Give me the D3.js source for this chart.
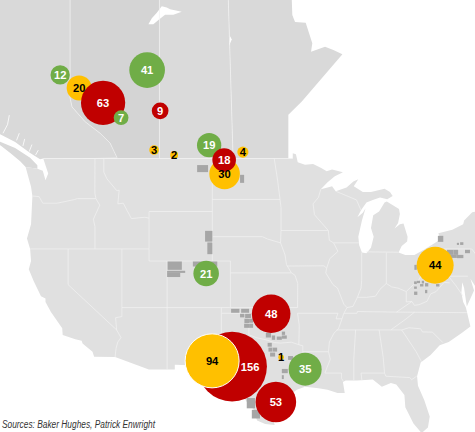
<!DOCTYPE html>
<html>
<head>
<meta charset="utf-8">
<script src="https://cdn.jsdelivr.net/npm/d3@7/dist/d3.min.js"></script>
<style>
    html, body { margin: 0; padding: 0; background: #fff; }
    svg { display: block; }
</style>
</head>
<body>
<div id="map"></div>
<script>
// Rig counts per play: value, where it sits, and its colour group
const rigValues = [12, 20, 63, 7, 41, 9, 3, 2, 19, 30, 18, 4, 21, 48, 156, 94, 1, 35, 53, 44];
const rigLons = [-120.88, -118.78, -116.13, -114.14, -111.26, -109.82, -110.49, -108.27, -104.40, -102.69, -102.74, -100.67, -104.73, -97.54, -101.86, -104.07, -96.44, -93.78, -97.02, -79.40];
const rigLats = [54.70, 53.86, 52.88, 51.87, 55.01, 52.34, 49.61, 49.25, 49.96, 47.87, 48.89, 49.46, 39.95, 36.45, 31.61, 32.15, 32.49, 31.37, 28.22, 40.65];
const rigGroups = ['g', 'y', 'r', 'g', 'g', 'r', 'y', 'y', 'g', 'y', 'r', 'y', 'g', 'r', 'r', 'y', 'y', 'g', 'r', 'y'];

// Outlines in [lon, lat]
const usOutline = [[-122.75, 49], [-95.15, 49], [-95.15, 49.38], [-94.8, 49.3], [-94.6, 48.72], [-93.8, 48.55], [-92.9, 48.6], [-92, 48.3], [-91.4, 48.07], [-90.8, 48.2], [-89.6, 48], [-90.5, 47.7], [-91.3, 47.25], [-92.05, 46.72], [-91.2, 46.87], [-90.8, 46.95], [-90.4, 46.57], [-89.2, 46.85], [-88.45, 47.3], [-87.9, 47.47], [-88.4, 46.95], [-87.4, 46.5], [-86.5, 46.5], [-85, 46.75], [-84.4, 46.5], [-84.1, 46.2], [-84.7, 45.95], [-85.5, 46.08], [-86.3, 45.9], [-87, 45.7], [-87.6, 45.1], [-88, 44.55], [-87.4, 44.9], [-87.1, 45.25], [-87.5, 44.3], [-87.9, 43], [-87.8, 42.3], [-87.5, 41.7], [-87, 41.65], [-86.5, 42.1], [-86.2, 43], [-86.5, 43.7], [-86.25, 44.7], [-85.6, 45], [-85, 45.7], [-84.75, 45.78], [-83.4, 45.2], [-83.3, 44.8], [-83.5, 44.1], [-83.9, 43.65], [-83.3, 44], [-82.9, 44.05], [-82.45, 43], [-82.5, 42.6], [-83.1, 42.25], [-83.45, 41.7], [-82.7, 41.5], [-81.7, 41.5], [-80.5, 42], [-79, 42.7], [-78.9, 43], [-79.05, 43.27], [-77.5, 43.55], [-76.3, 44], [-76.2, 44.3], [-75.3, 44.95], [-74.7, 45], [-71.5, 45], [-71, 41], [-74, 40.5], [-74, 39.7], [-75, 38.9], [-75.5, 39.5], [-75.1, 38.5], [-75.9, 37.1], [-76.2, 38.7], [-76.4, 39.2], [-76.5, 38.3], [-76.3, 37.5], [-76, 37], [-75.5, 35.3], [-76.5, 34.7], [-77.9, 33.9], [-78.9, 33.6], [-79.9, 32.7], [-81, 32], [-81.4, 30.7], [-81.3, 29.8], [-80.6, 28.4], [-80, 26.8], [-80.2, 25.7], [-80.9, 25.15], [-81.8, 26.1], [-82.7, 27.7], [-82.8, 28.9], [-83.7, 29.9], [-84.3, 30.05], [-85.3, 29.7], [-86.3, 30.4], [-88, 30.3], [-89.3, 30.3], [-89.6, 30.15], [-89.4, 29.1], [-90.2, 29.1], [-91.3, 29.4], [-92.3, 29.55], [-93.8, 29.7], [-94.7, 29.4], [-95.9, 28.6], [-97.2, 27.6], [-97.4, 26.8], [-97.15, 25.95], [-98.2, 26.05], [-99.1, 26.4], [-99.5, 27.5], [-100.3, 28.3], [-100.7, 29.1], [-101.4, 29.77], [-102.4, 29.77], [-103.15, 28.98], [-104.5, 29.65], [-105, 30.65], [-106.5, 31.75], [-108.2, 31.78], [-108.2, 31.33], [-111.07, 31.33], [-114.8, 32.5], [-117.12, 32.53], [-117.3, 33], [-118.4, 33.75], [-118.5, 34.02], [-119.2, 34.15], [-120.6, 34.55], [-120.65, 35.15], [-121.9, 36.6], [-122.5, 37.5], [-122.5, 37.8], [-123, 38], [-123.8, 39.3], [-124.35, 40.3], [-124.1, 41], [-124.2, 42], [-124.55, 42.85], [-124.1, 44], [-123.95, 46.2], [-124.1, 46.9], [-124.7, 48.38], [-123.4, 48.25], [-122.8, 48.1], [-122.5, 47.4], [-122.2, 47.9], [-122.75, 49]];
const bcOutline = [[-128.5, 59.24], [-119.78, 59.24], [-119.78, 53.2], [-119.56, 52.6], [-118.12, 51.6], [-116.46, 50.8], [-115.35, 50.1], [-114.58, 49.05], [-122.75, 49], [-123.1, 48.95], [-124.2, 49.4], [-125.86, 50.18], [-127.52, 50.72], [-128.5, 50.75]];
const vancouverIsland = [[-128.5, 50.3], [-127.52, 50.2], [-125.86, 49.75], [-124.2, 49.05], [-123.4, 48.5], [-123.4, 48.25], [-124.7, 48.38], [-125.3, 48.8], [-126.4, 49.4], [-127.5, 49.95], [-128.5, 50]];
const albertaOutline = [[-119.78, 59.24], [-109.9, 59.24], [-109.9, 49], [-114.58, 49], [-115.35, 50.1], [-116.46, 50.8], [-118.12, 51.6], [-119.56, 52.6], [-119.78, 53.2]];
const saskOutline = [[-109.9, 59.24], [-102.28, 59.24], [-101.75, 49], [-109.9, 49]];
const manitobaOutline = [[-102.28, 59.24], [-95.26, 59.24], [-95.2, 58.35], [-94.9, 57.95], [-93.72, 57.9], [-92.99, 56.67], [-93.13, 56.15], [-91.58, 56.46], [-90.66, 56.26], [-89.66, 56], [-94.15, 52.96], [-95.64, 52.07], [-95.64, 49], [-101.75, 49]];
const lakeAthabasca = [[-111.12, 57.81], [-110.74, 58.17], [-110.19, 58.48], [-109.64, 58.85], [-109.09, 58.79], [-108.72, 58.68], [-107.43, 58.54], [-108.36, 58.37], [-109.27, 58.37], [-110.01, 58.06], [-110.57, 57.81]];
const reindeerLake = [[-102.08, 57.1], [-101.9, 56.9], [-102.2, 56.5]];

// White state and province lines
const borderLines = [
    [[-119.78, 59.24], [-119.78, 53.2], [-119.56, 52.6], [-118.12, 51.6], [-116.46, 50.8], [-115.35, 50.1], [-114.58, 49.05]],
    [[-109.9, 59.24], [-109.9, 49]],
    [[-102.28, 59.24], [-101.75, 49]],
    [[-122.75, 49], [-95.15, 49]],
    [[-123.9, 46.2], [-123.2, 46.15], [-122.8, 45.65], [-121.2, 45.65], [-119.3, 45.93], [-119, 46], [-116.92, 46]],
    [[-117.03, 49], [-117.04, 46.42], [-116.92, 46], [-116.5, 45.5], [-117.2, 44.4], [-117.03, 43.8], [-117.03, 42]],
    [[-124.2, 42], [-111.05, 42]],
    [[-120, 42], [-120, 39], [-114.63, 35], [-114.15, 34.3], [-114.5, 33.9], [-114.7, 33.3], [-114.8, 32.5]],
    [[-114.05, 42], [-114.05, 36.2], [-114.75, 36.1], [-114.63, 35]],
    [[-116.05, 49], [-116.05, 48], [-115.7, 47.5], [-114.6, 46.6], [-114.35, 46.65], [-114.5, 45.6], [-113.9, 45.65], [-113.45, 45.05], [-113, 44.45], [-111.5, 44.55], [-111.05, 44.48]],
    [[-111.05, 45], [-111.05, 41], [-102.05, 41]],
    [[-111.05, 45], [-104.05, 45]],
    [[-109.05, 41], [-109.05, 31.33]],
    [[-114.05, 37], [-94.62, 37]],
    [[-103.05, 37], [-103.05, 32], [-106.6, 32]],
    [[-102.05, 41], [-102.05, 37]],
    [[-103, 36.5], [-100, 36.5], [-100, 34.56], [-99.2, 34.3], [-98.1, 34.1], [-97.2, 33.85], [-96.5, 33.8], [-95.3, 33.88], [-94.48, 33.65], [-94.04, 33.55], [-94.04, 32], [-93.55, 31.2], [-93.7, 30.1], [-93.85, 29.7]],
    [[-94.62, 36.5], [-94.43, 35.4], [-94.48, 33.65]],
    [[-94.04, 33], [-91.2, 33]],
    [[-94.62, 36.5], [-90.15, 36.5], [-90.37, 36], [-89.7, 36]],
    [[-94.62, 37], [-94.6, 39.1], [-94.9, 39.8], [-95.3, 40], [-95.85, 40.7], [-96, 41.5], [-96.5, 42.5]],
    [[-102.05, 40], [-95.3, 40]],
    [[-95.77, 40.58], [-91.7, 40.6], [-91.4, 40.4]],
    [[-104.05, 43], [-98.5, 43], [-97.9, 42.8], [-96.5, 42.5]],
    [[-104.05, 45.94], [-96.56, 45.94]],
    [[-104.05, 49], [-104.05, 41]],
    [[-97.2, 49], [-96.85, 47.5], [-96.56, 45.94], [-96.45, 45.3], [-96.45, 43.5], [-96.5, 42.5]],
    [[-96.45, 43.5], [-91.22, 43.5]],
    [[-92.05, 46.72], [-92.3, 46.1], [-92.9, 45.6], [-92.75, 44.75], [-91.22, 43.5], [-91.1, 42.7], [-90.64, 42.5], [-90.15, 41.8], [-91.05, 41.2], [-91.4, 40.4], [-91.5, 40], [-90.7, 39], [-90.2, 38.7], [-89.5, 37.3], [-89.15, 37], [-89.5, 36.5], [-89.7, 36], [-90.1, 35.1], [-90.6, 34.7], [-91.1, 33.9], [-91.2, 33], [-91, 32.3], [-91.6, 31], [-89.75, 31], [-89.75, 30.5], [-89.55, 30.2]],
    [[-90.64, 42.5], [-87.8, 42.5]],
    [[-90.4, 46.57], [-88.1, 45.9], [-87.6, 45.1]],
    [[-87.53, 41.7], [-87.53, 39.35], [-87.6, 38.7], [-88, 37.9]],
    [[-89.15, 37], [-88.5, 37.1], [-88, 37.9], [-87, 37.9], [-86, 38], [-85.5, 38.6], [-84.8, 39.1], [-84.2, 38.8], [-83.5, 38.7], [-82.6, 38.4], [-81.8, 39], [-81.2, 39.4], [-80.8, 40], [-80.52, 40.64]],
    [[-84.8, 39.1], [-84.8, 41.7]],
    [[-87, 41.76], [-83.45, 41.73]],
    [[-80.52, 42], [-80.52, 39.72], [-75.78, 39.72]],
    [[-79.76, 42.27], [-79.76, 42], [-75.35, 42], [-74.7, 41.36]],
    [[-82.6, 38.4], [-82.6, 37.5], [-81.97, 37.54], [-81.7, 37.2], [-81.2, 37.25], [-80.3, 37.55], [-79.9, 38.2], [-79.3, 38.4], [-78.4, 39.2], [-77.8, 39.15]],
    [[-79.48, 39.72], [-79.48, 39.2], [-78.4, 39.6], [-77.8, 39.6], [-77.1, 38.9], [-76.3, 38]],
    [[-83.67, 36.6], [-81.97, 37.54]],
    [[-89.5, 36.5], [-88.05, 36.5], [-88, 36.65], [-83.67, 36.6], [-75.9, 36.55]],
    [[-81.68, 36.6], [-82.6, 36], [-84.3, 35]],
    [[-90.3, 35], [-83.1, 35]],
    [[-83.1, 35], [-82.3, 35.2], [-81, 35.1], [-80.8, 34.82], [-79.7, 34.8], [-78.55, 33.85]],
    [[-83.1, 35], [-81.5, 33], [-80.9, 32.05]],
    [[-88.2, 35], [-88.4, 32.3], [-88.4, 30.3]],
    [[-85.6, 35], [-85.15, 32.5], [-85, 31], [-87.6, 31], [-87.5, 30.3]],
    [[-85, 31], [-84.85, 30.7], [-82.2, 30.57], [-82, 30.37], [-81.45, 30.7]]
];

// Small coast inlets north of the strait
const coastInlets = [
    [[-127.2, 50.8], [-126.7, 51.4], [-126.5, 52.05]],
    [[-125.7, 50.3], [-125.4, 50.8]],
    [[-125, 49.9], [-124.8, 50.4]],
    [[-124.3, 49.5], [-124, 50]],
    [[-123.6, 49.25], [-123.3, 49.6]]
];

// Shale play blocks as [west, south, east, north]
const playBlocks = [
    [-105.73, 48, -104.52, 48.52], [-100.98, 47.2, -100.53, 47.8],
    [-104.85, 42.6, -104.04, 43.47], [-104.6, 41.57, -104.04, 42.53],
    [-109, 40.26, -107.42, 40.96], [-109.05, 40, -107.05, 40.18], [-109.05, 39.65, -107.6, 40],
    [-106.2, 40.54, -103.5, 40.96],
    [-101.97, 36.54, -101.05, 36.89], [-100.86, 36.54, -99.98, 36.89],
    [-100.98, 36.13, -100.5, 36.45], [-100.42, 36.07, -99.76, 36.45],
    [-100.5, 35.62, -99.98, 36.01], [-99.98, 35.65, -99.54, 36.01],
    [-100.53, 35.19, -99.98, 35.56], [-99.98, 35.19, -99.54, 35.56],
    [-98.13, 34.31, -97.55, 34.73], [-97.47, 34.1, -97.1, 34.5], [-96.92, 34.1, -96.36, 34.4],
    [-96.36, 34.2, -95.81, 34.5], [-96.36, 34.55, -96, 34.85],
    [-97.93, 33.47, -97.47, 33.82], [-97.84, 33.01, -97.4, 33.38], [-97.36, 33.01, -96.88, 33.38],
    [-97.66, 32.55, -97.1, 32.92], [-95.67, 32.24, -95.12, 32.6],
    [-96.36, 30.99, -95.7, 31.39], [-96.36, 30.43, -96.14, 30.8],
    [-100.24, 27.6, -99.32, 28.6], [-99.68, 26.6, -98.77, 27.45],
    [-81.7, 40.26, -81.43, 40.68], [-79.1, 42.58, -78.5, 43.07],
    [-78.1, 41.51, -77.38, 41.93], [-77.38, 41.51, -76.86, 41.93], [-76.1, 41.65, -75.55, 41.93],
    [-77, 42.33, -76.76, 42.5], [-76.64, 42.33, -76.28, 42.55],
    [-77.75, 41.26, -77, 41.51], [-77, 41.24, -76.28, 41.51],
    [-81.73, 39.05, -81.43, 39.28], [-81.43, 39.13, -81.07, 39.33], [-80.88, 39.1, -80.63, 39.33],
    [-80.52, 38.84, -80.16, 39.13], [-81.73, 38.64, -81.43, 38.84], [-81.73, 38.11, -81.37, 38.4],
    [-80.52, 38.26, -80.27, 38.55], [-81.07, 38.84, -80.7, 39.05], [-79.3, 38.84, -78.93, 39.05]
];

const sourceNote = 'Sources: Baker Hughes, Patrick Enwright';

const width = 475;
const height = 432;

const groupColor = { r: '#c00000', y: '#ffc000', g: '#70ad47' };

// Flat Mercator view, the 49th parallel runs straight across
const projection = d3.geoMercator().scale(518).translate([1153, 668.1]);
const radius = d3.scaleSqrt().domain([0, 156]).range([0, 34.8]);

const line = d3.line().x(d => projection(d)[0]).y(d => projection(d)[1]);
const area = pts => line(pts) + 'Z';

const svg = d3.select('#map').append('svg')
    .attr('width', width)
    .attr('height', height);

// Land
const land = [
    [bcOutline, '#d9d9d9'],
    [vancouverIsland, '#d9d9d9'],
    [albertaOutline, '#d4d4d4'],
    [saskOutline, '#dadada'],
    [manitobaOutline, '#d9d9d9'],
    [usOutline, '#e0e0e0'],
    [lakeAthabasca, '#fff'],
    [reindeerLake, '#fff']
];
svg.append('g').selectAll('path')
    .data(land)
    .enter().append('path')
    .attr('d', d => area(d[0]))
    .attr('fill', d => d[1]);

// Borders
svg.append('g').selectAll('path')
    .data(borderLines)
    .enter().append('path')
    .attr('d', line)
    .attr('fill', 'none')
    .attr('stroke', '#f2f2f2')
    .attr('stroke-width', 0.7);

svg.append('g').selectAll('path')
    .data(coastInlets)
    .enter().append('path')
    .attr('d', line)
    .attr('fill', 'none')
    .attr('stroke', '#fff')
    .attr('stroke-width', 0.8);

// Shale plays
svg.append('g').selectAll('path')
    .data(playBlocks)
    .enter().append('path')
    .attr('d', b => area([[b[0], b[1]], [b[2], b[1]], [b[2], b[3]], [b[0], b[3]]]))
    .attr('fill', '#a6a6a6');

// Rig bubbles, drawn in list order so the overlaps come out right
const rigs = rigValues.map((value, i) => ({
    value: value,
    group: rigGroups[i],
    pos: projection([rigLons[i], rigLats[i]])
}));

const bubbles = svg.append('g');
bubbles.selectAll('circle')
    .data(rigs)
    .enter().append('circle')
    .attr('cx', d => d.pos[0])
    .attr('cy', d => d.pos[1])
    .attr('r', d => radius(d.value))
    .attr('fill', d => groupColor[d.group])
    .attr('stroke', d => d.value === 94 ? '#fff' : 'none')
    .attr('stroke-width', 1);

// The 156 label sits to the right, clear of the yellow bubble on top of it
bubbles.selectAll('text')
    .data(rigs)
    .enter().append('text')
    .attr('x', d => d.pos[0] + (d.value === 156 ? 18 : 0))
    .attr('y', d => d.pos[1])
    .attr('dy', '.36em')
    .attr('text-anchor', 'middle')
    .style('font-family', '"Liberation Sans", Arial, sans-serif')
    .style('font-size', '11.2px')
    .style('font-weight', 'bold')
    .style('fill', d => d.group === 'y' ? '#000' : '#fff')
    .text(d => d.value);

// Source line, squeezed to the narrow width of the original face
svg.append('text')
    .attr('x', 2)
    .attr('y', 427.5)
    .attr('textLength', 153)
    .attr('lengthAdjust', 'spacingAndGlyphs')
    .style('font-family', '"Liberation Sans", Arial, sans-serif')
    .style('font-size', '10px')
    .style('font-style', 'italic')
    .style('fill', '#333')
    .text(sourceNote);
</script>
</body>
</html>
